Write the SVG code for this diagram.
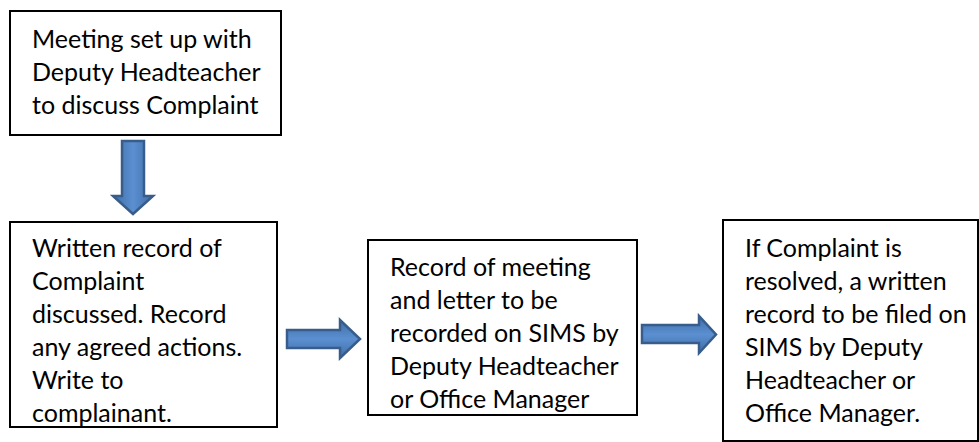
<svg xmlns="http://www.w3.org/2000/svg" width="979" height="442" viewBox="0 0 979 442">
<style>
.box{fill:#fff;stroke:#000;stroke-width:2}
.t{font-family:Lato,"Open Sans","Liberation Sans",sans-serif;font-size:25px;fill:#000}
.arr{stroke:#385d8a;stroke-width:2.5;stroke-linejoin:miter}
</style>
<defs>
<linearGradient id="gv" x1="0" y1="0" x2="1" y2="0">
<stop offset="0" stop-color="#3f6ea8"/><stop offset="0.5" stop-color="#5b8fd0"/><stop offset="1" stop-color="#3f6ea8"/>
</linearGradient>
<linearGradient id="gh" x1="0" y1="0" x2="0" y2="1">
<stop offset="0" stop-color="#3f6ea8"/><stop offset="0.5" stop-color="#5b8fd0"/><stop offset="1" stop-color="#3f6ea8"/>
</linearGradient>
</defs>
<g id="connectors">
<path class="arr" fill="url(#gv)" d="M122,141 H144 V196 H153 L133,214 L113,196 H122 Z"/>
<path class="arr" fill="url(#gh)" d="M287,330 H340 V320 L360,339 L340,358 V348 H287 Z"/>
<path class="arr" fill="url(#gh)" d="M642,325 H699 V316 L716,334.5 L699,353 V343 H642 Z"/>
</g>
<g id="node1">
<rect class="box" x="10" y="11" width="271" height="124"/>
<text class="t" x="32" y="48">Meeting set up with</text>
<text class="t" x="32" y="81">Deputy Headteacher</text>
<text class="t" x="32" y="114">to discuss Complaint</text>
</g>
<g id="node2">
<rect class="box" x="10" y="222" width="267" height="205"/>
<text class="t" x="32" y="257">Written record of</text>
<text class="t" x="32" y="290">Complaint</text>
<text class="t" x="32" y="323">discussed. Record</text>
<text class="t" x="32" y="356">any agreed actions.</text>
<text class="t" x="32" y="389">Write to</text>
<text class="t" x="32" y="422">complainant.</text>
</g>
<g id="node3">
<rect class="box" x="368" y="240" width="269" height="175"/>
<text class="t" x="390" y="276">Record of meeting</text>
<text class="t" x="390" y="309">and letter to be</text>
<text class="t" x="390" y="342">recorded on SIMS by</text>
<text class="t" x="390" y="375">Deputy Headteacher</text>
<text class="t" x="390" y="408">or Office Manager</text>
</g>
<g id="node4">
<rect class="box" x="723" y="220" width="255" height="221"/>
<text class="t" x="745" y="257">If Complaint is</text>
<text class="t" x="745" y="290">resolved, a written</text>
<text class="t" x="745" y="323">record to be filed on</text>
<text class="t" x="745" y="356">SIMS by Deputy</text>
<text class="t" x="745" y="389">Headteacher or</text>
<text class="t" x="745" y="422">Office Manager.</text>
</g>
</svg>
